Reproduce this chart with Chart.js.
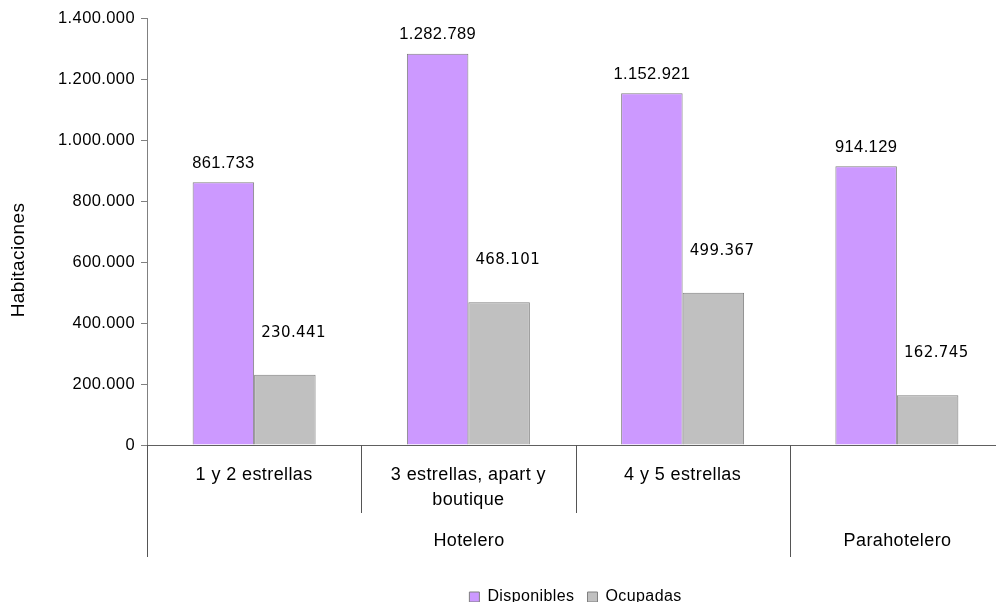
<!DOCTYPE html>
<html lang="es">
<head>
<meta charset="utf-8">
<title>Habitaciones disponibles y ocupadas</title>
<script src="https://cdn.jsdelivr.net/npm/chart.js@4.4.1/dist/chart.umd.min.js"></script>
<style>
  html, body { margin: 0; padding: 0; background: #fff; overflow: hidden; }
  #wrap { position: relative; width: 1010px; height: 615px; }
</style>
</head>
<body>
<div id="wrap"><canvas id="chart"></canvas></div>
<script>
// datos
const categories = ['1 y 2 estrellas', ['3 estrellas, apart y', 'boutique'], '4 y 5 estrellas', ''];
const groups = ['Hotelero', 'Parahotelero'];
const groupSpans = [3, 1];
const disponibles = [861733, 1282789, 1152921, 914129];
const ocupadas = [230441, 468101, 499367, 162745];
const yMax = 1400000;
const yStep = 200000;

const FONT = "'Liberation Sans', Arial, sans-serif";
const SPACING = '0.4px';
Chart.defaults.font.family = FONT;
Chart.defaults.color = '#000';

// 1400000 -> "1.400.000"
function fmt(v) {
  return String(v).replace(/\B(?=(\d{3})+(?!\d))/g, '.');
}

const decorations = {
  id: 'decorations',
  beforeLayout(chart) { chart.ctx.letterSpacing = SPACING; },
  beforeDraw(chart) { chart.ctx.letterSpacing = SPACING; },
  afterDraw(chart) {
    const { ctx, chartArea, scales: { x } } = chart;
    const base = chartArea.bottom;
    ctx.save();
    ctx.letterSpacing = SPACING;

    // separadores de categorías y de grupos bajo el eje
    const edge = i => Math.round(x.getPixelForValue(i - 0.5)) + 0.5;
    const groupEdges = [0];
    groupSpans.forEach(s => groupEdges.push(groupEdges[groupEdges.length - 1] + s));
    ctx.strokeStyle = '#555';
    ctx.lineWidth = 1;
    for (let i = 0; i <= categories.length; i++) {
      const long = groupEdges.includes(i);
      ctx.beginPath();
      ctx.moveTo(edge(i), base);
      ctx.lineTo(edge(i), long ? 557 : 513);
      ctx.stroke();
    }

    // etiquetas de grupo
    ctx.font = '18px ' + FONT;
    ctx.fillStyle = '#000';
    ctx.textAlign = 'center';
    ctx.textBaseline = 'middle';
    groups.forEach((g, k) => {
      const cx = (edge(groupEdges[k]) + edge(groupEdges[k + 1])) / 2;
      ctx.fillText(g, cx, 541);
    });

    // etiquetas de datos
    ctx.font = '16.5px ' + FONT;
    chart.getDatasetMeta(0).data.forEach((bar, i) => {
      ctx.fillText(fmt(disponibles[i]), bar.x, bar.y - 19);
    });
    ctx.font = "15px 'DejaVu Sans', sans-serif";
    ctx.textAlign = 'left';
    chart.getDatasetMeta(1).data.forEach((bar, i) => {
      ctx.fillText(fmt(ocupadas[i]), bar.x - bar.width / 2 + 7, bar.y - 42);
    });

    // título del eje Y
    ctx.font = '19px ' + FONT;
    ctx.textAlign = 'center';
    ctx.translate(19, 260);
    ctx.rotate(-Math.PI / 2);
    ctx.fillText('Habitaciones', 0, 0);
    ctx.restore();
  }
};

new Chart(document.getElementById('chart'), {
  type: 'bar',
  data: {
    labels: categories,
    datasets: [
      {
        label: 'Disponibles',
        data: disponibles,
        backgroundColor: '#cc99ff',
        borderColor: '#808080',
        borderWidth: 1,
        barPercentage: 1,
        categoryPercentage: 0.574,
      },
      {
        label: 'Ocupadas',
        data: ocupadas,
        backgroundColor: '#c0c0c0',
        borderColor: '#808080',
        borderWidth: 1,
        barPercentage: 1,
        categoryPercentage: 0.574,
      },
    ],
  },
  options: {
    responsive: true,
    maintainAspectRatio: false,
    animation: false,
    layout: { padding: { top: 18, right: 6, left: 0, bottom: 0 } },
    plugins: {
      tooltip: { enabled: false },
      legend: {
        position: 'bottom',
        fullSize: false,
        labels: {
          font: { size: 16 },
          color: '#000',
          boxWidth: 10,
          boxHeight: 10,
          padding: 13,
        },
      },
    },
    scales: {
      x: {
        grid: { display: false, drawTicks: false },
        border: { color: '#606060' },
        ticks: {
          font: { size: 18, lineHeight: 1.39 },
          color: '#000',
          padding: 17.5,
          maxRotation: 0,
          autoSkip: false,
        },
        afterFit(scale) { scale.height = 131; },
      },
      y: {
        min: 0,
        max: yMax,
        ticks: {
          stepSize: yStep,
          callback: v => fmt(v),
          font: { size: 16.5 },
          color: '#000',
          padding: 6,
        },
        grid: { drawOnChartArea: false, tickLength: 6, color: '#808080' },
        border: { color: '#808080' },
        afterFit(scale) { scale.width = 147; },
      },
    },
  },
  plugins: [decorations],
});
</script>
</body>
</html>
